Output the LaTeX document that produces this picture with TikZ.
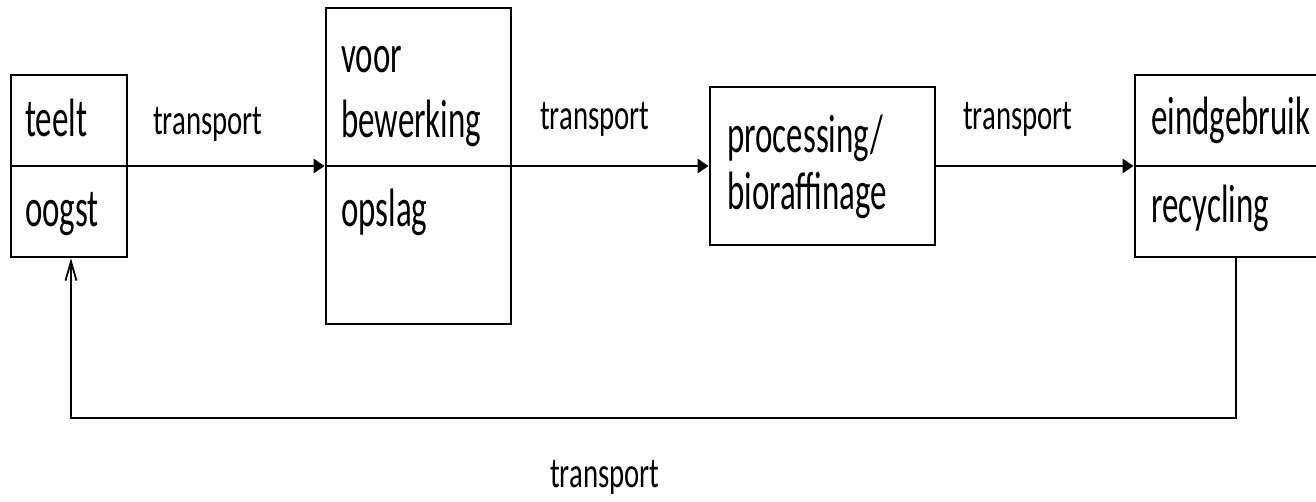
\documentclass[tikz,border=0pt]{standalone}
\usepackage{fontspec}
\setmainfont{Carlito}
% narrow, tall lettering for the stage texts and the transport labels
\newfontfamily\stagefont[FakeStretch=0.61]{Carlito}
\newfontfamily\labelfont[FakeStretch=0.67]{Carlito}
\usetikzlibrary{arrows.meta}
\begin{document}
\begin{tikzpicture}[x=1pt,y=-1pt,
  stage/.style={draw,line width=2.8pt,rectangle,inner sep=0pt},
  flow/.style={line width=2.8pt,-{Triangle[length=11pt,width=14pt]}},
  back/.style={line width=2.4pt,-{Straight Barb[length=19pt,width=11pt,line width=1.8pt]}},
  boxtext/.style={anchor=base west,inner sep=0pt,font=\stagefont\fontsize{54}{58}\selectfont},
  lbl/.style={anchor=base west,inner sep=0pt,font=\labelfont\fontsize{43}{46}\selectfont}]
\useasboundingbox (0,0) rectangle (1316,502);
% process stages
\node[stage,minimum width=116pt,minimum height=182pt] (b1) at (69,166) {};
\node[stage,minimum width=185pt,minimum height=316pt] (b2) at (418.5,166) {};
\node[stage,minimum width=225pt,minimum height=158pt] (b3) at (822.5,166) {};
\node[stage,minimum width=200pt,minimum height=182pt] (b4) at (1235,166) {};
% dividers of the split stages
\draw[line width=2.8pt] (b1.west) -- (b1.east);
\draw[line width=2.8pt] (b2.west) -- (b2.east);
\draw[line width=2.8pt] (b4.west) -- (b4.east);
% stage texts
\node[boxtext] (t1) at (25,137) {teelt};
\node[boxtext] (t2) at (25,227) {oogst};
\node[boxtext] (t3) at (341,73) {voor};
\node[boxtext] (t4) at (341,138) {bewerking};
\node[boxtext] (t5) at (341,227) {opslag};
\node[boxtext] (t6) at (727,153) {processing/};
\node[boxtext] (t7) at (727,210) {bioraffinage};
\node[boxtext] (t8) at (1151,135) {eindgebruik};
\node[boxtext] (t9) at (1151,223) {recycling};
% flows
\draw[flow] (b1.east) -- (b2.west);
\draw[flow] (b2.east) -- (b3.west);
\draw[flow] (b3.east) -- (b4.west);
\coordinate (r) at (1236,418);
\coordinate (l) at (71,418);
\draw[back] (b4.south -| r) -- (r) -- (l) -- (l |- b1.south);
% transport labels
\node[lbl] (l1) at (153,135) {transport};
\node[lbl] (l2) at (540,130) {transport};
\node[lbl] (l3) at (963,130) {transport};
\node[lbl] (l4) at (550,487) {transport};
\end{tikzpicture}
\end{document}
